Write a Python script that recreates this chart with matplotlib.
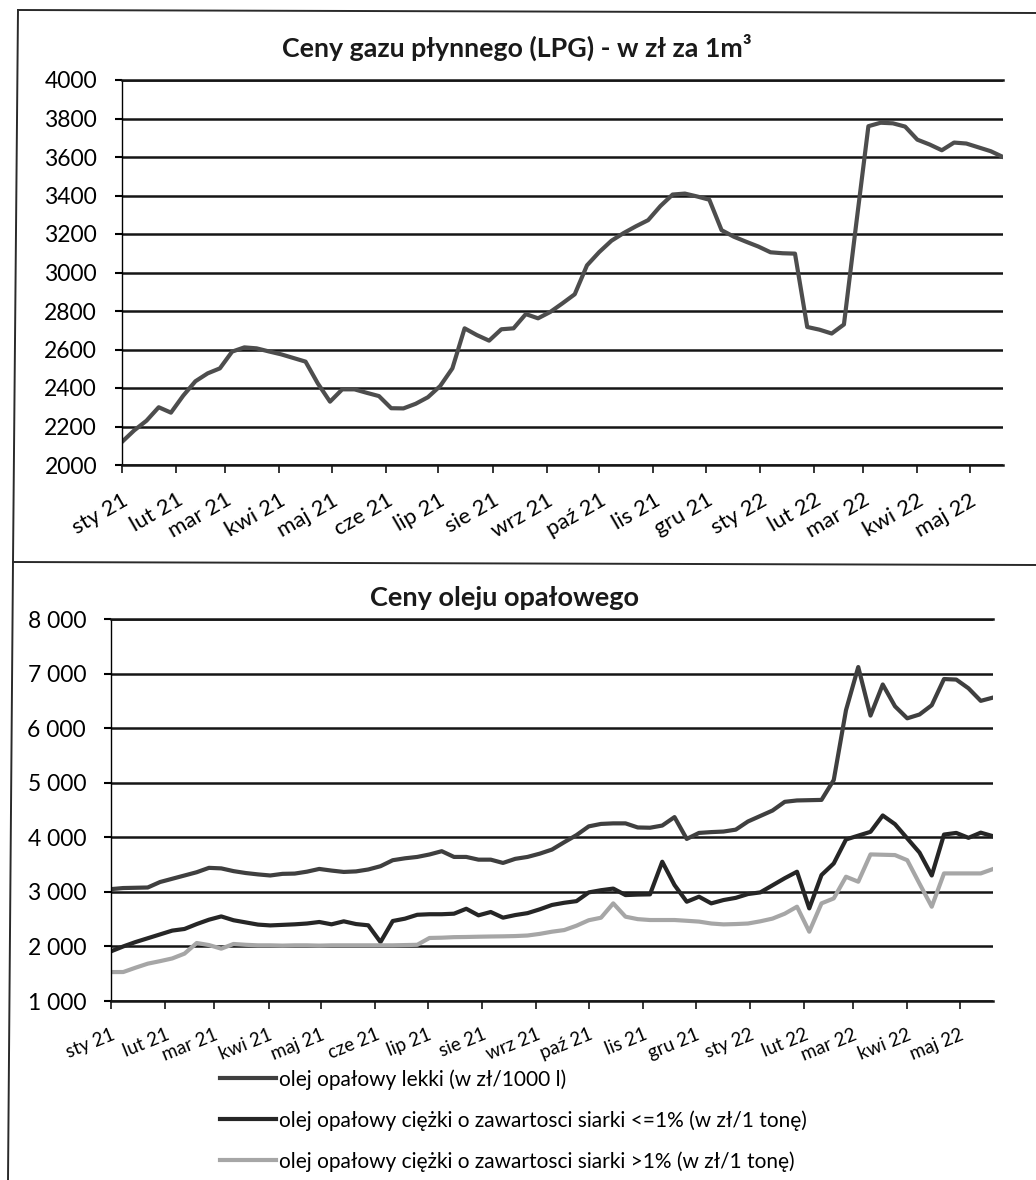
import matplotlib
matplotlib.use('Agg')
import matplotlib.pyplot as plt
from matplotlib.lines import Line2D
import numpy as np
import pandas as pd

plt.rcParams['font.family'] = ['Lato', 'DejaVu Sans']

# weekly readings, Jan 2021 - May 2022
weeks = pd.date_range('2021-01-01', periods=73, freq='7D')
month_ticks = pd.date_range('2021-01-01', '2022-05-01', freq='MS')
month_labels = ['sty 21', 'lut 21', 'mar 21', 'kwi 21', 'maj 21', 'cze 21',
                'lip 21', 'sie 21', 'wrz 21', 'paź 21', 'lis 21', 'gru 21',
                'sty 22', 'lut 22', 'mar 22', 'kwi 22', 'maj 22']

# LPG, zl / 1 m3
lpg = [2120, 2180, 2230, 2300, 2272, 2360, 2435, 2476, 2502, 2589,
       2611, 2606, 2590, 2575, 2556, 2537, 2424, 2329, 2393, 2393,
       2375, 2358, 2295, 2294, 2318, 2352, 2410, 2502, 2710, 2675,
       2646, 2705, 2710, 2784, 2762, 2795, 2840, 2887, 3037, 3106,
       3165, 3205, 3240, 3272, 3345, 3405, 3410, 3395, 3378, 3220,
       3186, 3160, 3135, 3105, 3100, 3098, 2717, 2703, 2683, 2730,
       3250, 3760, 3778, 3775, 3758, 3690, 3665, 3635, 3675, 3670,
       3650, 3630, 3600]

# olej opalowy
olej_lekki = [3050, 3070, 3075, 3080, 3180, 3240, 3300, 3360, 3440, 3430,
              3380, 3345, 3320, 3300, 3330, 3335, 3370, 3420, 3390, 3365,
              3375, 3410, 3470, 3580, 3615, 3640, 3685, 3745, 3640, 3640,
              3590, 3590, 3530, 3605, 3640, 3700, 3775, 3910, 4040, 4200,
              4245, 4255, 4255, 4180, 4175, 4215, 4370, 3970, 4080, 4095,
              4105, 4140, 4290, 4390, 4490, 4650, 4675, 4680, 4685, 5050,
              6330, 7120, 6230, 6800, 6400, 6180, 6250, 6420, 6900, 6890,
              6730, 6500, 6560]
olej_ciezki_niska = [1910, 2000, 2080, 2150, 2220, 2290, 2320, 2410, 2490, 2550,
                     2480, 2440, 2400, 2385, 2395, 2405, 2420, 2448, 2405, 2460,
                     2410, 2387, 2080, 2466, 2509, 2580, 2590, 2590, 2600, 2690,
                     2570, 2631, 2527, 2575, 2610, 2680, 2760, 2800, 2830, 2990,
                     3030, 3060, 2941, 2950, 2954, 3552, 3125, 2819, 2911, 2789,
                     2850, 2890, 2960, 2990, 3120, 3250, 3369, 2697, 3308, 3521,
                     3960, 4030, 4100, 4400, 4240, 3980, 3720, 3300, 4050, 4080,
                     3990, 4085, 4020]
olej_ciezki_wysoka = [1530, 1531, 1610, 1684, 1730, 1780, 1868, 2063, 2025, 1959,
                      2045, 2030, 2020, 2020, 2015, 2020, 2020, 2015, 2020, 2020,
                      2020, 2020, 2020, 2020, 2025, 2030, 2155, 2160, 2170, 2173,
                      2178, 2182, 2185, 2190, 2200, 2230, 2270, 2300, 2380, 2480,
                      2526, 2789, 2545, 2500, 2484, 2484, 2484, 2470, 2455, 2420,
                      2404, 2410, 2420, 2460, 2510, 2600, 2728, 2270, 2789, 2880,
                      3277, 3186, 3686, 3680, 3674, 3580, 3150, 2728, 3338, 3338,
                      3338, 3338, 3418]
legend_labels = ['olej opałowy lekki (w zł/1000 l)',
                 'olej opałowy ciężki o zawartosci siarki <=1% (w zł/1 tonę)',
                 'olej opałowy ciężki o zawartosci siarki >1% (w zł/1 tonę)']

W, H = 1036, 1180
fig = plt.figure(figsize=(W / 100, H / 100), dpi=100)
fig.patch.set_facecolor('white')


def px_axes(left, top, right, bottom):
    return fig.add_axes([left / W, 1 - bottom / H, (right - left) / W, (bottom - top) / H])


def style(ax, ymin, ymax, step, fmt, rot, xfs, xpad):
    ax.set_ylim(ymin, ymax)
    ticks = np.arange(ymin, ymax + 1, step)
    ax.set_yticks(ticks)
    ax.set_yticklabels([fmt(v) for v in ticks])
    ax.yaxis.grid(True, color='#151515', lw=1.8)
    ax.set_axisbelow(True)
    ax.spines['right'].set_visible(False)
    for s in ['top', 'bottom']:
        ax.spines[s].set_color('#151515')
        ax.spines[s].set_linewidth(1.8)
    ax.spines['left'].set_linewidth(1.0)
    ax.set_xlim(weeks[0], weeks[-1])
    ax.set_xticks(month_ticks)
    ax.set_xticklabels(month_labels, rotation=rot, ha='right', va='top',
                       rotation_mode='anchor', fontsize=xfs)
    ax.tick_params(axis='y', length=5, width=1.5, direction='out', labelsize=16.5, pad=13)
    ax.tick_params(axis='x', length=6, width=1.1, direction='out', pad=xpad)


# --- top chart: LPG ---
ax1 = px_axes(122, 80, 1003, 465)
ax1.plot(weeks, lpg, color='#4d4d4d', lw=3.0, solid_joinstyle='round')
style(ax1, 2000, 4000, 200, lambda v: f'{v:d}', 30, 16, 12)
fig.text(517 / W, 1 - 57 / H, 'Ceny gazu płynnego (LPG) - w zł za 1m³',
         ha='center', va='baseline', fontsize=19.3, fontweight='bold', color='#1a1a1a')

# --- bottom chart: heating oil ---
ax2 = px_axes(111, 619, 993, 1001)
ax2.plot(weeks, olej_lekki, color='#3f3f3f', lw=3.0, solid_joinstyle='round')
ax2.plot(weeks, olej_ciezki_niska, color='#262626', lw=3.0, solid_joinstyle='round')
ax2.plot(weeks, olej_ciezki_wysoka, color='#a6a6a6', lw=3.0, solid_joinstyle='round')
style(ax2, 1000, 8000, 1000, lambda v: f'{v:,d}'.replace(',', ' '), 22, 13.5, 12)
fig.text(505 / W, 1 - 606 / H, 'Ceny oleju opałowego',
         ha='center', va='baseline', fontsize=19.5, fontweight='bold', color='#1a1a1a')

handles = [Line2D([], [], color=c, lw=3.0) for c in ['#3f3f3f', '#262626', '#a6a6a6']]
fig.legend(handles, legend_labels, loc='upper left', bbox_to_anchor=(220 / W, 1 - 1069 / H),
           frameon=False, fontsize=15, handlelength=2.7, handletextpad=0.15,
           labelspacing=0.98, borderpad=0, borderaxespad=0)

# scanned page frame lines
frame = dict(color='#2a2a2a', lw=1.4, transform=fig.transFigure)
fig.add_artist(Line2D([18 / W, 1.0], [1 - 10 / H, 1 - 13 / H], **frame))
fig.add_artist(Line2D([18 / W, 13 / W, 8 / W], [1 - 10 / H, 1 - 562 / H, 0.0], **frame))
fig.add_artist(Line2D([13 / W, 1.0], [1 - 562 / H, 1 - 565 / H], **frame))

fig.savefig('out.png', dpi=100)
